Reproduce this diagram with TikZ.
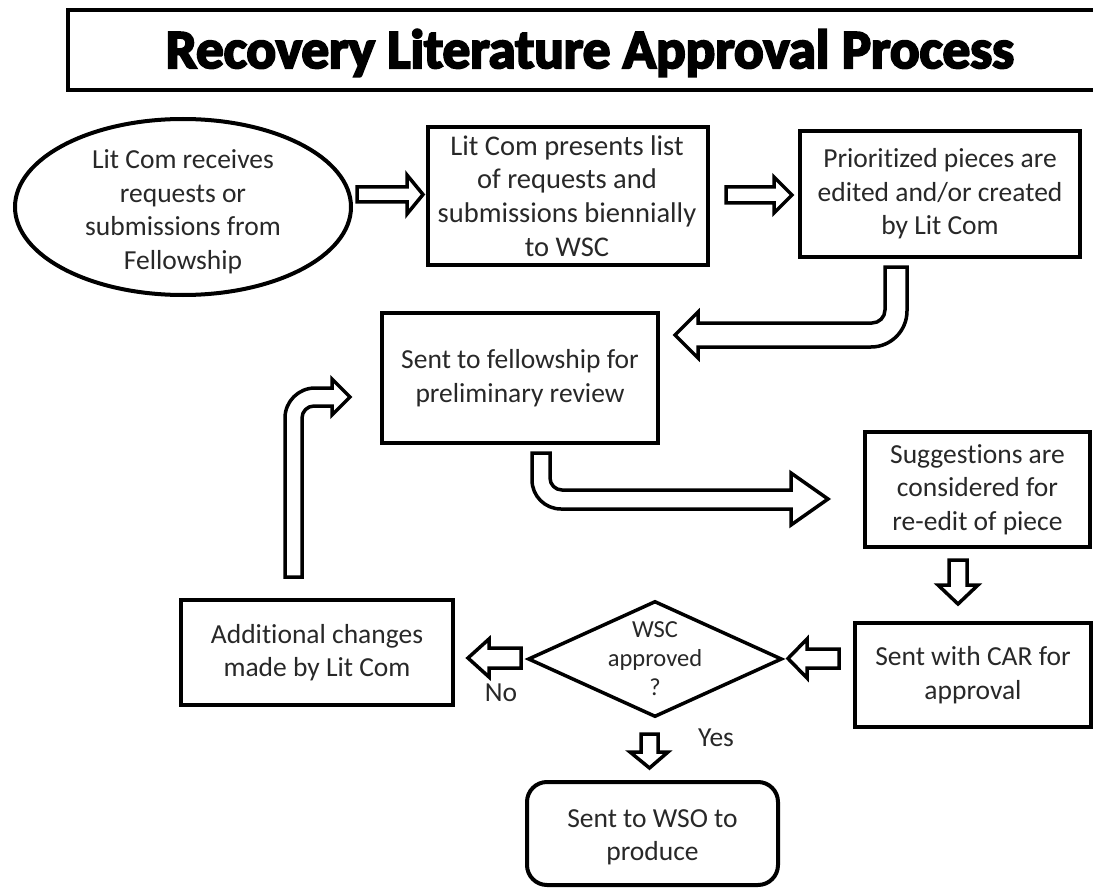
\documentclass[tikz,border=0pt]{standalone}
\usepackage{fontspec}
\setmainfont{Carlito}[RawFeature={-liga;-clig}]
\newfontfamily\titlefont{Carlito}[FakeBold=4, RawFeature={-liga;-clig}]
\usetikzlibrary{shapes.geometric}
\definecolor{txt}{RGB}{40,40,40}
\newcommand\bodyfont{\fontsize{27.5pt}{33.5pt}\selectfont}
\tikzset{
  box/.style={draw=black, line width=4pt, fill=white, align=center, inner sep=0pt, text=txt, font=\bodyfont},
  shapeonly/.style={draw=black, line width=4pt, fill=white, inner sep=0pt},
  label/.style={align=center, inner sep=0pt, text=txt, font=\bodyfont},
  blk/.style={draw=black, line width=3.5pt, fill=white, line join=miter},
}
\begin{document}
\begin{tikzpicture}[x=1pt, y=-1pt]
\useasboundingbox (0,0) rectangle (1093,888);
\fill[white] (0,0) rectangle (1093,888);

% title
\node[draw=black, line width=4pt, minimum width=1042pt, minimum height=80pt, inner sep=0pt]
  (title) at (589,50) {};
\node[inner sep=0pt] (titletext) at (590,53) {\titlefont\bfseries\fontsize{55pt}{60pt}\selectfont Recovery Literature Approval Process};

% nodes
\node[shapeonly, ellipse, minimum width=336pt, minimum height=176pt] (ell) at (183,207) {};
\node[label] (elltext) at (183,212) {Lit Com receives\\requests or\\submissions from\\Fellowship};
\node[box, minimum width=280pt, minimum height=138pt] (b2) at (568,196) {};
\node[label, font=\fontsize{28.5pt}{33.8pt}\selectfont] (b2text) at (567,196) {Lit Com presents list\\of requests and\\submissions biennially\\to WSC};
\node[box, minimum width=280pt, minimum height=126pt] (b3) at (940,194) {Prioritized pieces are\\edited and/or created\\by Lit Com};
\node[box, minimum width=276pt, minimum height=130pt] (b4) at (520,378) {Sent to fellowship for\\preliminary review};
\node[box, minimum width=225pt, minimum height=115pt] (b5) at (977.5,489.5) {Suggestions are\\considered for\\re-edit of piece};
\node[box, minimum width=236pt, minimum height=104pt] (b6) at (973,675) {Sent with CAR for\\approval};
\node[shapeonly, diamond, line width=3.5pt, minimum width=254pt, minimum height=116pt] (dia) at (655,659) {};
\node[label, font=\fontsize{24.5pt}{29pt}\selectfont] (diatext) at (dia.center) {WSC\\approved\\?};
\node[box, minimum width=272pt, minimum height=105pt] (b8) at (317,652.5) {Additional changes\\made by Lit Com};
\node[box, rounded corners=20pt, minimum width=251pt, minimum height=103pt] (b9) at (652.5,833.5) {};
\node[label] (b9text) at (652.5,837.5) {Sent to WSO to\\produce};

\node[label] (no) at (501,693) {No};
\node[label] (yes) at (716,738) {Yes};

% block arrows
\draw[blk] (357,187) -- (407,187) -- (407,175) -- (423,194.5) -- (407,214) -- (407,202) -- (357,202) -- cycle;
\draw[blk] (726,187) -- (774,187) -- (774,177) -- (792,195) -- (774,213) -- (774,203) -- (726,203) -- cycle;
\draw[blk] (885,267) -- (907,267) -- (907,311) arc[start angle=0,end angle=90,radius=36]
  -- (698,347) -- (698,358) -- (675,335) -- (698,312) -- (698,323) -- (872,323)
  arc[start angle=90,end angle=0,radius=13] -- cycle;
\draw[blk] (532,453) -- (550,453) -- (550,478) arc[start angle=180,end angle=90,radius=12]
  -- (791,490) -- (791,473) -- (828,499) -- (791,525) -- (791,509) -- (561,509)
  arc[start angle=90,end angle=180,radius=29] -- cycle;
\draw[blk] (285,577) -- (285,418) arc[start angle=180,end angle=270,radius=30]
  -- (332,388) -- (332,379) -- (350,397) -- (332,415) -- (332,406) -- (314,406)
  arc[start angle=270,end angle=180,radius=12] -- (302,577) -- cycle;
\draw[blk] (949,560) -- (967,560) -- (967,585) -- (978,585) -- (958,604) -- (938,585) -- (949,585) -- cycle;
\draw[blk] (839,649) -- (807,649) -- (807,639) -- (788,658.5) -- (807,678) -- (807,668) -- (839,668) -- cycle;
\draw[blk] (521,648) -- (489,648) -- (489,639) -- (468,658) -- (489,677) -- (489,668) -- (521,668) -- cycle;
\draw[blk] (641,734) -- (658,734) -- (658,752) -- (668,752) -- (649.5,768) -- (630,752) -- (641,752) -- cycle;
\end{tikzpicture}
\end{document}
